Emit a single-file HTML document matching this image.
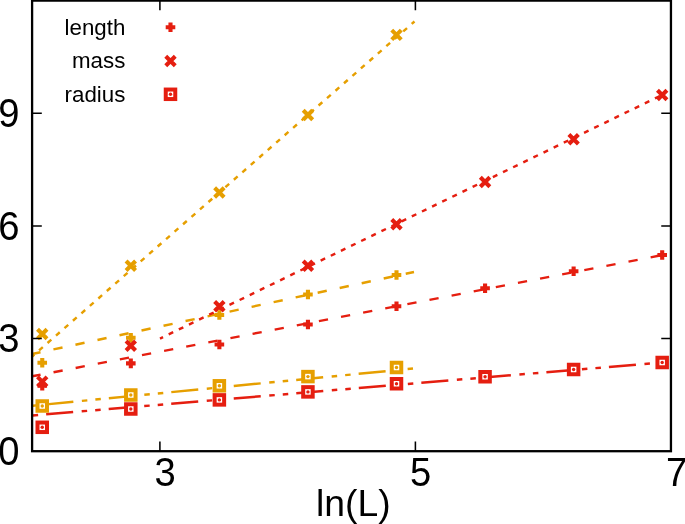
<!DOCTYPE html>
<html><head><meta charset="utf-8"><title>plot</title>
<style>
html,body{margin:0;padding:0;background:#fff;}
body{width:685px;height:524px;overflow:hidden;position:relative;}
svg{position:absolute;left:0;top:0;display:block;will-change:transform;}
text{font-family:"Liberation Sans",sans-serif;fill:#000;}
</style></head><body>
<svg width="685" height="524" viewBox="0 0 685 524">
<rect x="0" y="0" width="685" height="524" fill="#fff"/>

<line x1="32.1" y1="356.5" x2="414.5" y2="21.5" stroke="#e69f00" stroke-width="2.45" stroke-dasharray="5 6.26" stroke-dashoffset="2" fill="none"/>
<line x1="32.1" y1="354.0" x2="414.0" y2="272.0" stroke="#e69f00" stroke-width="2.45" stroke-dasharray="9.3 13.22" stroke-dashoffset="0.7" fill="none"/>
<line x1="32.1" y1="405.75" x2="413.0" y2="368.5" stroke="#e69f00" stroke-width="2.45" stroke-dasharray="27.1 8.55 5.5 8.05 5.5 8.05" stroke-dashoffset="48.4" fill="none"/>
<line x1="160.0" y1="338.6" x2="662.5" y2="94.8" stroke="#e51e10" stroke-width="2.45" stroke-dasharray="5 6.26" stroke-dashoffset="1.6" fill="none"/>
<line x1="32.1" y1="376.3" x2="662.75" y2="255.0" stroke="#e51e10" stroke-width="2.45" stroke-dasharray="9.3 13.22" stroke-dashoffset="0.7" fill="none"/>
<line x1="32.1" y1="415.5" x2="662.5" y2="362.5" stroke="#e51e10" stroke-width="2.45" stroke-dasharray="27.1 8.55 5.5 8.05 5.5 8.05" stroke-dashoffset="48.65" fill="none"/>
<path d="M37.45 362.80H47.05M42.25 358.00V367.60" stroke="#e69f00" stroke-width="4.1" fill="none"/>
<path d="M126.01 337.70H135.61M130.81 332.90V342.50" stroke="#e69f00" stroke-width="4.1" fill="none"/>
<path d="M214.58 315.00H224.18M219.38 310.20V319.80" stroke="#e69f00" stroke-width="4.1" fill="none"/>
<path d="M303.14 294.50H312.74M307.94 289.70V299.30" stroke="#e69f00" stroke-width="4.1" fill="none"/>
<path d="M391.70 275.00H401.30M396.50 270.20V279.80" stroke="#e69f00" stroke-width="4.1" fill="none"/>
<path d="M37.50 329.25L47.00 338.75M37.50 338.75L47.00 329.25" stroke="#e69f00" stroke-width="4.1" fill="none"/>
<path d="M126.06 261.00L135.56 270.50M126.06 270.50L135.56 261.00" stroke="#e69f00" stroke-width="4.1" fill="none"/>
<path d="M214.63 187.75L224.13 197.25M214.63 197.25L224.13 187.75" stroke="#e69f00" stroke-width="4.1" fill="none"/>
<path d="M303.19 110.25L312.69 119.75M303.19 119.75L312.69 110.25" stroke="#e69f00" stroke-width="4.1" fill="none"/>
<path d="M391.75 30.15L401.25 39.65M391.75 39.65L401.25 30.15" stroke="#e69f00" stroke-width="4.1" fill="none"/>
<rect x="37.50" y="401.25" width="9.50" height="9.50" stroke="#e69f00" stroke-width="4.0" fill="#fff"/><circle cx="42.25" cy="406.00" r="1.7" fill="#e69f00"/>
<rect x="126.06" y="390.25" width="9.50" height="9.50" stroke="#e69f00" stroke-width="4.0" fill="#fff"/><circle cx="130.81" cy="395.00" r="1.7" fill="#e69f00"/>
<rect x="214.63" y="381.05" width="9.50" height="9.50" stroke="#e69f00" stroke-width="4.0" fill="#fff"/><circle cx="219.38" cy="385.80" r="1.7" fill="#e69f00"/>
<rect x="303.19" y="371.85" width="9.50" height="9.50" stroke="#e69f00" stroke-width="4.0" fill="#fff"/><circle cx="307.94" cy="376.60" r="1.7" fill="#e69f00"/>
<rect x="391.75" y="362.75" width="9.50" height="9.50" stroke="#e69f00" stroke-width="4.0" fill="#fff"/><circle cx="396.50" cy="367.50" r="1.7" fill="#e69f00"/>
<path d="M37.45 385.60H47.05M42.25 380.80V390.40" stroke="#e51e10" stroke-width="4.1" fill="none"/>
<path d="M126.01 363.40H135.61M130.81 358.60V368.20" stroke="#e51e10" stroke-width="4.1" fill="none"/>
<path d="M214.58 344.50H224.18M219.38 339.70V349.30" stroke="#e51e10" stroke-width="4.1" fill="none"/>
<path d="M303.14 324.50H312.74M307.94 319.70V329.30" stroke="#e51e10" stroke-width="4.1" fill="none"/>
<path d="M391.70 306.25H401.30M396.50 301.45V311.05" stroke="#e51e10" stroke-width="4.1" fill="none"/>
<path d="M480.27 288.25H489.87M485.07 283.45V293.05" stroke="#e51e10" stroke-width="4.1" fill="none"/>
<path d="M568.83 271.25H578.43M573.63 266.45V276.05" stroke="#e51e10" stroke-width="4.1" fill="none"/>
<path d="M657.39 255.00H666.99M662.19 250.20V259.80" stroke="#e51e10" stroke-width="4.1" fill="none"/>
<path d="M37.50 376.85L47.00 386.35M37.50 386.35L47.00 376.85" stroke="#e51e10" stroke-width="4.1" fill="none"/>
<path d="M126.06 341.05L135.56 350.55M126.06 350.55L135.56 341.05" stroke="#e51e10" stroke-width="4.1" fill="none"/>
<path d="M214.63 301.50L224.13 311.00M214.63 311.00L224.13 301.50" stroke="#e51e10" stroke-width="4.1" fill="none"/>
<path d="M303.19 261.00L312.69 270.50M303.19 270.50L312.69 261.00" stroke="#e51e10" stroke-width="4.1" fill="none"/>
<path d="M391.75 219.50L401.25 229.00M391.75 229.00L401.25 219.50" stroke="#e51e10" stroke-width="4.1" fill="none"/>
<path d="M480.32 177.25L489.82 186.75M480.32 186.75L489.82 177.25" stroke="#e51e10" stroke-width="4.1" fill="none"/>
<path d="M568.88 134.50L578.38 144.00M568.88 144.00L578.38 134.50" stroke="#e51e10" stroke-width="4.1" fill="none"/>
<path d="M657.44 90.25L666.94 99.75M657.44 99.75L666.94 90.25" stroke="#e51e10" stroke-width="4.1" fill="none"/>
<rect x="37.50" y="422.55" width="9.50" height="9.50" stroke="#e51e10" stroke-width="4.0" fill="#fff"/><circle cx="42.25" cy="427.30" r="1.7" fill="#e51e10"/>
<rect x="126.06" y="404.25" width="9.50" height="9.50" stroke="#e51e10" stroke-width="4.0" fill="#fff"/><circle cx="130.81" cy="409.00" r="1.7" fill="#e51e10"/>
<rect x="214.63" y="395.15" width="9.50" height="9.50" stroke="#e51e10" stroke-width="4.0" fill="#fff"/><circle cx="219.38" cy="399.90" r="1.7" fill="#e51e10"/>
<rect x="303.19" y="387.15" width="9.50" height="9.50" stroke="#e51e10" stroke-width="4.0" fill="#fff"/><circle cx="307.94" cy="391.90" r="1.7" fill="#e51e10"/>
<rect x="391.75" y="379.00" width="9.50" height="9.50" stroke="#e51e10" stroke-width="4.0" fill="#fff"/><circle cx="396.50" cy="383.75" r="1.7" fill="#e51e10"/>
<rect x="480.32" y="372.00" width="9.50" height="9.50" stroke="#e51e10" stroke-width="4.0" fill="#fff"/><circle cx="485.07" cy="376.75" r="1.7" fill="#e51e10"/>
<rect x="568.88" y="364.75" width="9.50" height="9.50" stroke="#e51e10" stroke-width="4.0" fill="#fff"/><circle cx="573.63" cy="369.50" r="1.7" fill="#e51e10"/>
<rect x="657.44" y="357.75" width="9.50" height="9.50" stroke="#e51e10" stroke-width="4.0" fill="#fff"/><circle cx="662.19" cy="362.50" r="1.7" fill="#e51e10"/>
<path d="M159.9 451.2V441.5M159.9 0.6V10.299999999999999M415.4 451.2V441.5M415.4 0.6V10.299999999999999M32.1 113.25H41.8M670.95 113.25H661.25M32.1 225.9H41.8M670.95 225.9H661.25M32.1 338.55H41.8M670.95 338.55H661.25" stroke="#000" stroke-width="1.55" fill="none"/>
<rect x="32.1" y="0.6" width="638.85" height="450.60" stroke="#000" stroke-width="2.3" fill="none"/>
<path d="M165.70 27.20H175.30M170.50 22.40V32.00" stroke="#e51e10" stroke-width="4.1" fill="none"/>
<path d="M165.75 56.25L175.25 65.75M165.75 65.75L175.25 56.25" stroke="#e51e10" stroke-width="4.1" fill="none"/>
<rect x="165.75" y="89.55" width="9.50" height="9.50" stroke="#e51e10" stroke-width="4.0" fill="#fff"/><circle cx="170.50" cy="94.30" r="1.7" fill="#e51e10"/>
<text x="125.3" y="34.5" font-size="22.3" text-anchor="end">length</text>
<text x="125.3" y="68.2" font-size="22.3" text-anchor="end">mass</text>
<text x="125.3" y="101.7" font-size="22.3" text-anchor="end">radius</text>
<text transform="translate(165.0,485.9) scale(1,1.063)" font-size="38.2" text-anchor="middle">3</text>
<text transform="translate(420.6,485.9) scale(1,1.063)" font-size="38.2" text-anchor="middle">5</text>
<text transform="translate(676.6,485.9) scale(1,1.063)" font-size="38.2" text-anchor="middle">7</text>
<text transform="translate(19.6,127.0) scale(1,1.063)" font-size="38.2" text-anchor="end">9</text>
<text transform="translate(19.6,239.5) scale(1,1.063)" font-size="38.2" text-anchor="end">6</text>
<text transform="translate(19.6,352.0) scale(1,1.063)" font-size="38.2" text-anchor="end">3</text>
<text transform="translate(19.6,464.7) scale(1,1.063)" font-size="38.2" text-anchor="end">0</text>
<text x="316.0" y="515.8" font-size="37.3">ln(L)</text>
</svg></body></html>
